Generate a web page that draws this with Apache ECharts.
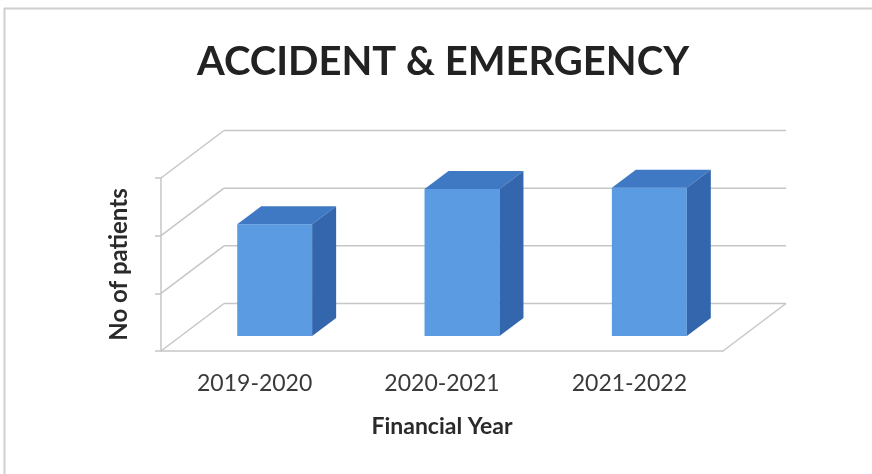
<!DOCTYPE html>
<html><head><meta charset="utf-8">
<script src="https://cdn.jsdelivr.net/npm/echarts@6/dist/echarts.min.js"></script>
<style>html,body{margin:0;padding:0;background:#fff}#c{width:872px;height:474px}</style>
</head><body><div id="c"></div>
<script>
const categories = ['2019-2020', '2020-2021', '2021-2022'];
const patients = [1.94, 2.55, 2.57];
const gridValues = [0, 1, 2, 3];

const DX = 63, DY = -47.5;      // back wall depth offset
const BX = 20, BY = -15;        // bar front face offset
const BDX = 24, BDY = -18;      // bar depth
const lineCol = '#c6c6c6';

const chart = echarts.init(document.getElementById('c'));
chart.setOption({
  animation: false,
  backgroundColor: '#fff',
  title: {
    text: 'ACCIDENT & EMERGENCY', left: 192, top: 37,
    textStyle: { fontFamily: 'Lato', fontWeight: 'bold', fontSize: 40, color: '#222' }
  },
  graphic: [
    { type: 'line', shape: { x1: 4, y1: 8.5, x2: 872, y2: 8.5 }, style: { stroke: '#cfcfcf', lineWidth: 2 } },
    { type: 'line', shape: { x1: 4.5, y1: 8, x2: 4.5, y2: 474 }, style: { stroke: '#cfcfcf', lineWidth: 2 } }
  ],
  grid: { left: 161, right: 149, top: 178, bottom: 123 },
  xAxis: {
    type: 'category', data: categories,
    axisLine: { lineStyle: { color: lineCol, width: 1.5 } },
    axisTick: { length: 5, lineStyle: { color: lineCol, width: 1.5 } },
    axisLabel: { margin: 21, fontFamily: 'Lato', fontSize: 23, color: '#3a3a3a' },
    name: 'Financial Year', nameLocation: 'middle', nameGap: 64,
    nameTextStyle: { fontFamily: 'Lato', fontWeight: 'bold', fontSize: 23, color: '#2a2a2a' }
  },
  yAxis: {
    type: 'value', min: 0, max: 3, interval: 1,
    splitLine: { show: false },
    axisLine: { show: true, lineStyle: { color: lineCol, width: 1.5 } },
    axisTick: { show: true, length: 6, lineStyle: { color: lineCol, width: 1.5 } },
    axisLabel: { show: false },
    name: 'No of patients', nameLocation: 'middle', nameGap: 30, nameRotate: 90,
    nameTextStyle: { fontFamily: 'Lato', fontWeight: 'bold', fontSize: 24, color: '#2a2a2a' }
  },
  series: [
    {
      type: 'custom', silent: true, z: 1,
      data: gridValues.map(v => [0, v]),
      renderItem: function (params, api) {
        const cs = params.coordSys;
        const y = api.coord([0, api.value(1)])[1];
        const x0 = cs.x, x1 = cs.x + cs.width;
        const children = [
          { type: 'line', shape: { x1: x0, y1: y, x2: x0 + DX, y2: y + DY }, style: { stroke: lineCol, lineWidth: 1.5 } },
          { type: 'line', shape: { x1: x0 + DX, y1: y + DY, x2: x1 + DX, y2: y + DY }, style: { stroke: lineCol, lineWidth: 1.5 } }
        ];
        if (api.value(1) === 0) {
          children.push({ type: 'line', shape: { x1: x1, y1: y, x2: x1 + DX, y2: y + DY }, style: { stroke: lineCol, lineWidth: 1.5 } });
        }
        return { type: 'group', children: children };
      }
    },
    {
      type: 'custom', z: 2,
      data: patients.map((v, i) => [i, v]),
      renderItem: function (params, api) {
        const top = api.coord([api.value(0), api.value(1)]);
        const base = api.coord([api.value(0), 0]);
        const w = api.size([1, 0])[0] * 0.4;
        const l = top[0] - w / 2 + BX, r = top[0] + w / 2 + BX;
        const t = top[1] + BY, b = base[1] + BY;
        return {
          type: 'group',
          children: [
            { type: 'rect', shape: { x: l, y: t, width: r - l, height: b - t }, style: { fill: '#5a9be2' } },
            { type: 'polygon', shape: { points: [[l, t], [r, t], [r + BDX, t + BDY], [l + BDX, t + BDY]] }, style: { fill: '#3f79c4' } },
            { type: 'polygon', shape: { points: [[r, t], [r + BDX, t + BDY], [r + BDX, b + BDY], [r, b]] }, style: { fill: '#3466ae' } }
          ]
        };
      }
    }
  ]
});
</script></body></html>
